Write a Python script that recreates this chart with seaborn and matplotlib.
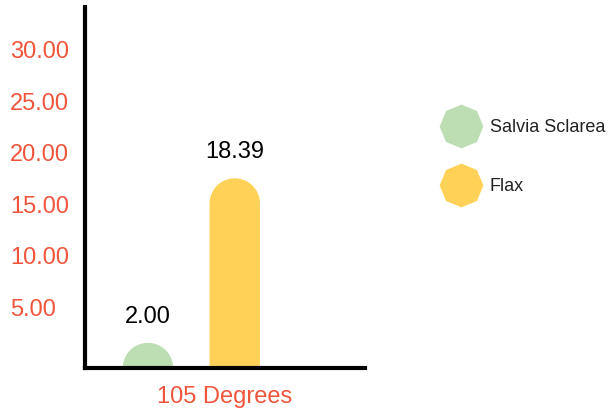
import numpy as np
import pandas as pd
import matplotlib
matplotlib.use("Agg")
import matplotlib.pyplot as plt
from matplotlib.lines import Line2D
from matplotlib.patches import Polygon
from matplotlib.transforms import ScaledTranslation
import seaborn as sns

# --- data ---
categories = ["105 Degrees"]
series = ["Salvia Sclarea", "Flax"]
values = [2.00, 18.39]
colors = ["#bcdeb2", "#ffd257"]
yticks = [5, 10, 15, 20, 25, 30]

red = "#f0553c"

df = pd.DataFrame({"category": categories * len(series), "series": series, "value": values})

sns.set_style("white")
plt.rcParams["font.family"] = ["Liberation Sans", "DejaVu Sans"]

fig = plt.figure(figsize=(6.08, 4.08), dpi=100)
ax = fig.add_axes([85 / 608, 40 / 408, 280 / 608, 361 / 408])

sns.barplot(data=df, x="category", y="value", hue="series", palette=colors,
            width=0.8, gap=0.42, legend=False, ax=ax)

ax.set_xlim(-0.49, 0.80)
ax.set_ylim(0, 35.0)
fig.canvas.draw()

# swap the plain bars for bars with a round top
to_px = ax.transData
for p, c, v in zip(list(ax.patches), colors, values):
    x0, w, h = p.get_x(), p.get_width(), p.get_height()
    p.remove()
    (px0, py0), (px1, py1) = to_px.transform([(x0, 0), (x0 + w, h)])
    r_px = (px1 - px0) / 2
    y_per_px = h / (py1 - py0)
    ry = r_px * y_per_px
    cy = max(h - ry, 0)
    t = np.linspace(0, np.pi, 60)
    cx = x0 + w / 2
    arc = np.column_stack([cx + (w / 2) * np.cos(t), cy + ry * np.sin(t)])
    pts = np.vstack([[x0 + w, 0], arc, [x0, 0]])
    ax.add_patch(Polygon(pts, closed=True, facecolor=c, edgecolor="none"))
    ax.annotate(f"{v:.2f}", (cx, cy + ry), xytext=(0, 11), textcoords="offset points",
                ha="center", va="bottom", fontsize=17, color="black")

# axes styling
for s in ["top", "right"]:
    ax.spines[s].set_visible(False)
for s in ["left", "bottom"]:
    ax.spines[s].set_color("black")
    ax.spines[s].set_linewidth(3)

ax.set_yticks(yticks)
ax.set_yticklabels([f"{v:.2f}" for v in yticks])
ax.tick_params(axis="y", length=0, pad=54, labelsize=17, labelcolor=red)
for lab in ax.get_yticklabels():
    lab.set_horizontalalignment("left")
    lab.set_transform(lab.get_transform() + ScaledTranslation(0, 9 / 100, fig.dpi_scale_trans))

ax.set_xticks([])
ax.set_xlabel(categories[0], fontsize=17, color=red, labelpad=13)
ax.set_ylabel("")

handles = [Line2D([], [], marker=(8, 0, 0), linestyle="none", markersize=31.5,
                  markerfacecolor=c, markeredgecolor="none") for c in colors]
fig.legend(handles, series, loc="upper left", bbox_to_anchor=(432 / 608, 1 - 110 / 408),
           frameon=False, fontsize=13, labelcolor="#222222", handlelength=2.2,
           handletextpad=0.5, labelspacing=2.35, borderpad=0)

fig.savefig("out.png", dpi=100)
